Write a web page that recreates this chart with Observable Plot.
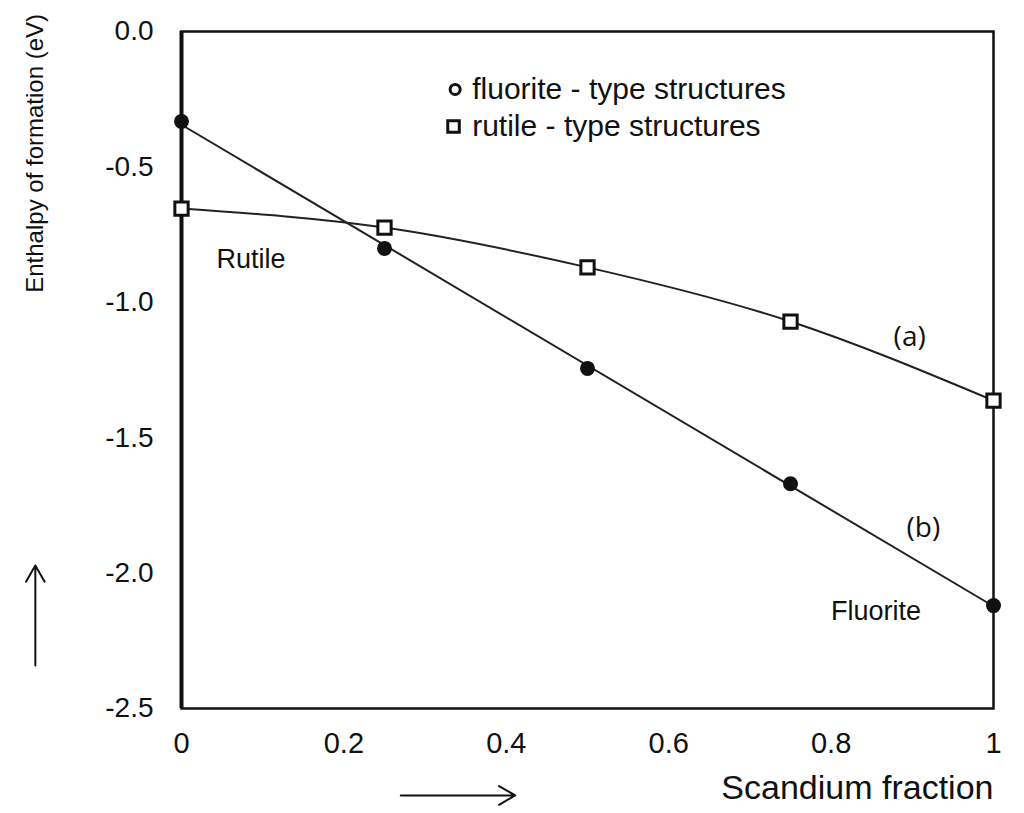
<!DOCTYPE html>
<html>
<head>
<meta charset="utf-8">
<script src="https://cdn.jsdelivr.net/npm/d3@7"></script>
<script src="https://cdn.jsdelivr.net/npm/@observablehq/plot@0.6"></script>
<style>
  html, body { margin: 0; padding: 0; background: #fff; }
</style>
</head>
<body>
<script>
// Scandium fraction
const fraction = [0, 0.25, 0.5, 0.75, 1];
// Enthalpy of formation (eV)
const fluorite = [-0.332, -0.801, -1.244, -1.67, -2.12];
const rutile = [-0.654, -0.724, -0.871, -1.071, -1.363];
const xTicks = [0, 0.2, 0.4, 0.6, 0.8, 1];
const yTicks = [0, -0.5, -1.0, -1.5, -2.0, -2.5];
const legendLabels = ["fluorite - type structures", "rutile - type structures"];
const yTitle = "Enthalpy of formation (eV)";
const xTitle = "Scandium fraction";

const fluoriteData = fraction.map((x, i) => ({x, y: fluorite[i]}));
const rutileData = fraction.map((x, i) => ({x, y: rutile[i]}));

const font = "Liberation Sans, Arial, sans-serif";

const chart = Plot.plot({
  width: 1024,
  height: 813,
  marginLeft: 181,
  marginRight: 31,
  marginTop: 31,
  marginBottom: 105,
  style: {fontFamily: font, color: "#111", background: "#fff", overflow: "visible"},
  x: {domain: [0, 1]},
  y: {domain: [-2.5, 0]},
  marks: [
    Plot.frame({stroke: "#111", strokeWidth: 2.5}),
    Plot.ruleX([0], {stroke: "#111", strokeWidth: 4}),
    Plot.axisX(xTicks, {tickSize: 0, tickPadding: 24, fontSize: 29, tickFormat: d => String(d), label: null}),
    Plot.axisY(yTicks, {tickSize: 0, tickPadding: 28, fontSize: 28, tickFormat: d => d.toFixed(1), label: null}),
    // curves
    Plot.linearRegressionY(fluoriteData, {x: "x", y: "y", ci: 0, stroke: "#222", strokeWidth: 2}),
    Plot.line(rutileData, {x: "x", y: "y", curve: "natural", stroke: "#222", strokeWidth: 2}),
    Plot.dot(fluoriteData, {x: "x", y: "y", r: 7.5, fill: "#111", stroke: "none"}),
    Plot.dot(rutileData, {x: "x", y: "y", r: 7.5, symbol: "square", fill: "#fff", stroke: "#111", strokeWidth: 3}),
    // legend
    Plot.dot([legendLabels[0]], {x: () => 0.337, y: () => -0.214, r: 5, fill: "#fff", stroke: "#111", strokeWidth: 3}),
    Plot.dot([legendLabels[1]], {x: () => 0.335, y: () => -0.351, r: 6.5, symbol: "square", fill: "#fff", stroke: "#111", strokeWidth: 3}),
    Plot.text([legendLabels[0]], {x: () => 0.358, y: () => -0.214, text: d => d, textAnchor: "start", fontSize: 30, fill: "#111"}),
    Plot.text([legendLabels[1]], {x: () => 0.358, y: () => -0.351, text: d => d, textAnchor: "start", fontSize: 30, fill: "#111"}),
    // annotations
    Plot.text(["Rutile"], {x: () => 0.043, y: () => -0.842, text: d => d, textAnchor: "start", fontSize: 27, fill: "#111"}),
    Plot.text(["Fluorite"], {x: () => 0.80, y: () => -2.142, text: d => d, textAnchor: "start", fontSize: 27, fill: "#111"}),
    Plot.text(["(a)"], {x: () => 0.877, y: () => -1.13, text: d => d, textAnchor: "start", fontSize: 28, fill: "#111", fontFamily: "Open Sans, Liberation Sans, sans-serif"}),
    Plot.text(["(b)"], {x: () => 0.893, y: () => -1.835, text: d => d, textAnchor: "start", fontSize: 28, fill: "#111", fontFamily: "Open Sans, Liberation Sans, sans-serif"}),
    // axis titles
    Plot.text([yTitle], {x: () => -0.18, y: () => -0.45, text: d => d, rotate: -90, textAnchor: "middle", fontSize: 24, fill: "#111"}),
    Plot.text([xTitle], {x: () => 1.0, y: () => -2.795, text: d => d, textAnchor: "end", fontSize: 34, fill: "#111"}),
    // direction arrows
    Plot.arrow([1], {x1: () => 0.27, x2: () => 0.411, y1: () => -2.821, y2: () => -2.821, stroke: "#111", strokeWidth: 2, headLength: 14}),
    Plot.arrow([1], {x1: () => -0.18, x2: () => -0.18, y1: () => -2.341, y2: () => -1.972, stroke: "#111", strokeWidth: 2, headLength: 14})
  ]
});

document.body.append(chart);
</script>
</body>
</html>
